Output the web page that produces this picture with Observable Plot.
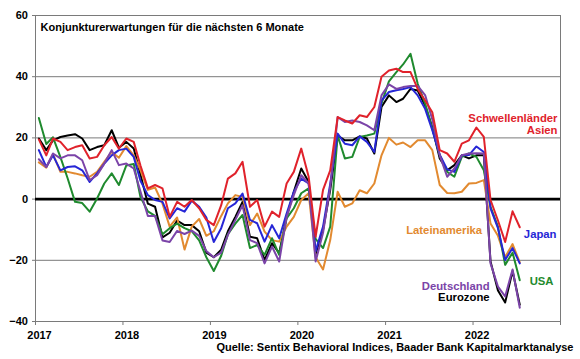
<!DOCTYPE html>
<html><head><meta charset="utf-8">
<script src="https://cdn.jsdelivr.net/npm/d3@7"></script>
<script src="https://cdn.jsdelivr.net/npm/@observablehq/plot@0.6"></script>
<style>
body{margin:0;background:#fff;}
#chart svg{display:block;}
</style></head><body><div id="chart"></div>
<script>
const title = "Konjunkturerwartungen für die nächsten 6 Monate";
const source = "Quelle: Sentix Behavioral Indices, Baader Bank Kapitalmarktanalyse";
const yearLabels = [2017, 2018, 2019, 2020, 2021, 2022];
const yearTicks = [2017, 2018, 2019, 2020, 2021, 2022, 2023];
const yTicks = [-40, -20, 0, 20, 40, 60];
const gridValues = [-20, 20, 40, 60];

// monthly values Jan 2017 .. Jul 2022
const asien = [
  19.5, 14.3, 19.8, 18.7, 16, 17, 17.6, 13.3, 13.8, 17.6, 20.3, 16.5,
  19.8, 18.7, 11, 3.5, 4.6, 3.5, -5.8, -0.9, -2.5, -0.3, -3, -6.8,
  -8.5, -2, 6.7, 8.4, 12.2, -2.5, -0.3, -9, -4.1, -5.8, 5.1, 8.9,
  16.5, 7.3, -12.3, 3, 9.4, 26.8, 25.7, 24.7, 27.4, 26.8, 30.1, 40,
  42, 42.6, 41.5, 41.5, 36, 32.2, 28.4, 16, 14.9, 12.2, 18.1, 19.2,
  23.4, 20.3, -0.3, -7, -14, -4, -9.2
];
const japan = [
  16, 10.5, 14.3, 9.4, 10.5, 10.7, 9.4, 5.6, 8.4, 11.6, 14.3, 16,
  16.5, 13.8, 6, 1.3, -0.3, -0.9, -6.3, -3, -4.1, -0.5, -2.5, -6,
  -14, -9.5, -3, -1.4, 1.8, -6.8, -7.9, -13.9, -8.5, -12.8, -4.7, 2.4,
  6.7, 5.1, -17, -9, 5, 21.4, 18.1, 17.6, 20.5, 18.7, 15.4, 32.2,
  35, 35.6, 36, 36.6, 33.9, 29.5, 22.5, 14.5, 9.7, 8.9, 14.3, 14.4,
  17.2, 15.4, -3, -9.5, -19.9, -16, -21
];
const eurozone = [
  19.8, 16, 19.2, 20.3, 20.8, 21.2, 19.8, 16, 17, 17.6, 22.5, 16.8,
  18.7, 16.5, 8, -1.5, -2.5, -12.5, -11, -7, -8.5, -8.5, -10.5, -17.5,
  -19, -16.5, -10.5, -5.8, -0.9, -12.3, -12.8, -19.9, -14.4, -17.7, -5.8, 2.4,
  10, 5.6, -18, -10, 3, 20.8, 19.2, 19.2, 20.5, 19.8, 14.9, 30.1,
  33.9, 31.7, 32.8, 36, 35.5, 30.6, 23.5, 13.3, 9.4, 11.1, 14.3, 13.3,
  14.3, 14.3, -20.4, -29.9, -33.8, -23.5, -34.5
];
const deutschland = [
  13, 10.5, 14.9, 13.3, 14.3, 14.3, 12.7, 6.2, 7.8, 11.6, 16, 11.1,
  11.6, 10, 2.5, -5.5, -5.5, -13.5, -14, -10.4, -11.4, -10.3, -12, -17,
  -19, -17.5, -11.7, -6.8, -2, -13.4, -14.4, -21, -15.5, -20.4, -5.8, 1.3,
  7.8, 5.1, -20.4, -11, 4, 26.8, 25.2, 25.7, 25.2, 24.1, 22.5, 33.9,
  37.5, 36, 36.6, 37, 37, 34, 26, 14.3, 7.3, 10, 14.3, 14.9,
  15, 14.9, -21, -28.6, -31.8, -23, -35.5
];
const usa = [
  26.5, 18, 20.2, 13.7, 6.8, -0.9, -1.3, -4.1, 0.2, 5.1, 8.4, 4.6,
  11, 11.5, 0.7, -4, -5.5, -11.5, -9.5, -8, -9.5, -10.5, -13.5, -19,
  -23.5, -18.5, -11.5, -8, -5.2, -16, -15, -18.2, -12.8, -18.2, -6.3, -3,
  1.9, 3.5, -13, -16, -9, 20.8, 13.3, 13.8, 20.3, 20.8, 21.4, 31.2,
  38.5, 41.5, 44, 47.5, 37.7, 31.2, 23, 14.3, 8.9, 7.3, 13.8, 14.9,
  13.8, 9.4, -2.5, -9, -21.5, -17.5, -26.5
];
const lateinamerika = [
  12, 10.3, 14.7, 8.9, 8.9, 8.4, 7.8, 7.3, 8.9, 12.2, 15.4, 13.5,
  17.3, 14.3, 9.5, 3, 3.8, -1.5, -9, -6, -16.5, -9, -6.5, -12,
  -10.5, -5.5, -1.4, 1.3, 0.7, -8.5, -4.7, -10.6, -13.4, -13.9, -9, -5.8,
  -0.3, 1.9, -19, -23, -13.4, 2.4, -2.5, -1.4, 2.9, 1.9, 5.1, 14.3,
  20, 17.8, 18.5, 17, 19.2, 19.2, 16, 4.6, 2, 1.9, 2.4, 5.1,
  5.3, 6.2, -8, -12, -19, -14.7, -20.7
];

const months = d3.utcMonth.range(new Date(Date.UTC(2017, 0, 1)), new Date(Date.UTC(2022, 7, 1)))
  .map(d => d3.utcDay.offset(d, 14));
const toRows = (vals) => vals.map((v, i) => ({date: months[i], value: v}));
const yr = y => new Date(Date.UTC(y, 0, 1));

const COLORS = {
  red: "#e0222b", blue: "#2626d6", green: "#1f8a2e",
  orange: "#e28a30", purple: "#7b44a8", black: "#000000"
};
const font = {fontWeight: "bold", fontSize: 11};
const lbl = {fontWeight: "bold", fontSize: 11.3, lineAnchor: "bottom"};

const plot = Plot.plot({
  width: 580, height: 359,
  marginLeft: 35, marginRight: 20, marginTop: 15, marginBottom: 38,
  style: {fontFamily: "Arial, 'Liberation Sans', sans-serif", fontSize: "11px", color: "#000", background: "#fff"},
  x: {type: "utc", domain: [yr(2017), yr(2023)], axis: null},
  y: {domain: [-40, 60], axis: null},
  marks: [
    Plot.ruleY(gridValues, {stroke: "#7a7a7a", strokeWidth: 1}),
    Plot.frame({stroke: "#7a7a7a", strokeWidth: 1}),
    Plot.ruleY([0], {stroke: "#000", strokeWidth: 2.6}),
    Plot.lineY(toRows(eurozone), {x: "date", y: "value", stroke: COLORS.black, strokeWidth: 2}),
    Plot.lineY(toRows(lateinamerika), {x: "date", y: "value", stroke: COLORS.orange, strokeWidth: 2}),
    Plot.lineY(toRows(usa), {x: "date", y: "value", stroke: COLORS.green, strokeWidth: 2}),
    Plot.lineY(toRows(japan), {x: "date", y: "value", stroke: COLORS.blue, strokeWidth: 2}),
    Plot.lineY(toRows(deutschland), {x: "date", y: "value", stroke: COLORS.purple, strokeWidth: 2}),
    Plot.lineY(toRows(asien), {x: "date", y: "value", stroke: COLORS.red, strokeWidth: 2}),
    Plot.axisY(yTicks, {label: null, tickSize: 3, tickPadding: 4.5, stroke: "#7a7a7a", fill: "#000", ...font}),
    Plot.axisX(yearTicks.map(yr), {label: null, tickSize: 4, tickFormat: () => "", stroke: "#7a7a7a"}),
    Plot.axisX(yearLabels.map(yr), {label: null, tickSize: 0, tickPadding: 10, dx: 4, tickFormat: "%Y", fill: "#000", ...font}),
    Plot.text([title], {text: d => d, frameAnchor: "top-left", dx: 5, dy: 7.7, lineAnchor: "top", textAnchor: "start", fill: "#000", ...font}),
    Plot.text([source], {text: d => d, frameAnchor: "bottom-right", dx: 13, dy: 29, lineAnchor: "bottom", textAnchor: "end", fill: "#000", ...font}),
    Plot.text(["Schwellenländer\nAsien"], {text: d => d, frameAnchor: "right", y: 21.3, dx: -3, textAnchor: "end", lineHeight: 1.09, fill: COLORS.red, ...lbl}),
    Plot.text(["Japan"], {text: d => d, frameAnchor: "right", y: -12.6, dx: -4, textAnchor: "end", fill: COLORS.blue, ...lbl}),
    Plot.text(["USA"], {text: d => d, frameAnchor: "right", y: -28.2, dx: -7, textAnchor: "end", fill: COLORS.green, ...lbl}),
    Plot.text(["Lateinamerika"], {text: d => d, x: new Date(Date.UTC(2022, 1, 8)), y: -11.3, textAnchor: "end", fill: COLORS.orange, ...lbl}),
    Plot.text(["Deutschland"], {text: d => d, x: new Date(Date.UTC(2022, 2, 11)), y: -29.6, textAnchor: "end", fill: COLORS.purple, ...lbl}),
    Plot.text(["Eurozone"], {text: d => d, x: new Date(Date.UTC(2022, 2, 11)), y: -33.3, textAnchor: "end", fill: COLORS.black, ...lbl})
  ]
});
document.getElementById("chart").append(plot);
</script>
</body></html>
